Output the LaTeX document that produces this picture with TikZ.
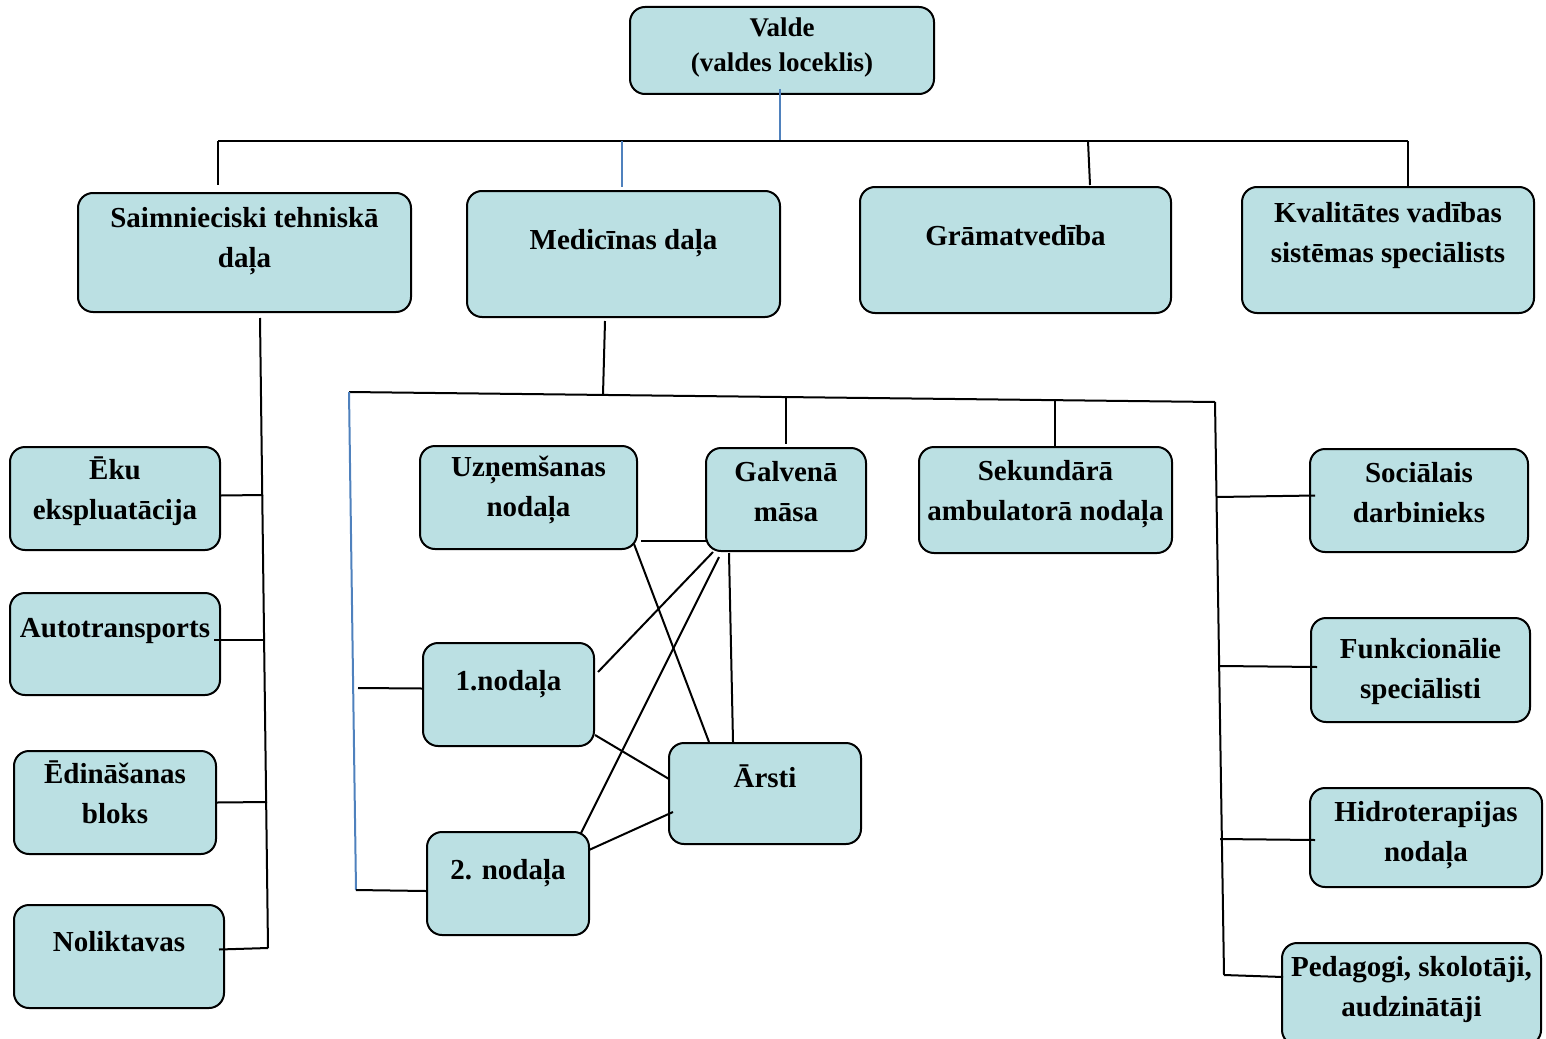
\documentclass[tikz,border=0pt]{standalone}
\usepackage{fontspec}
\setmainfont{Liberation Serif}
\definecolor{boxfill}{RGB}{187,224,227}
\definecolor{linkblue}{RGB}{79,129,189}
\tikzset{
  unit/.style={draw=black, line width=2pt, fill=boxfill, rounded corners=15pt},
  every label/.style={align=center, inner sep=0pt, anchor=north, font=\fontsize{29}{40}\selectfont\bfseries},
  link/.style={line width=2pt, black},
  bluelink/.style={line width=2pt, linkblue},
}
\begin{document}
\begin{tikzpicture}[x=1pt, y=-1pt]
    \useasboundingbox (0,0) rectangle (1546,1038);

    \node[unit, minimum width=304, minimum height=87, label={[yshift=-12pt, font=\fontsize{27}{35}\selectfont\bfseries]north:Valde\\(valdes loceklis)}] at (782,50.5) (valde) {};

    \node[unit, minimum width=333, minimum height=119, label={[yshift=-15pt]north:Saimnieciski tehniskā\\daļa}] at (244.5,252.5) (saim) {};
    \node[unit, minimum width=313, minimum height=126, label={[yshift=-39pt]north:Medicīnas daļa}] at (623.5,254) (med) {};
    \node[unit, minimum width=311, minimum height=126, label={[yshift=-39pt]north:Grāmatvedība}] at (1015.5,250) (gram) {};
    \node[unit, minimum width=292, minimum height=126, label={[yshift=-16pt]north:Kvalitātes vadības\\sistēmas speciālists}] at (1388,250) (kval) {};

    \node[unit, minimum width=210, minimum height=103, label={[yshift=-11pt]north:Ēku\\ekspluatācija}] at (115,498.5) (eku) {};
    \node[unit, minimum width=210, minimum height=102, label={[yshift=-26pt]north:Autotransports}] at (115,644) (auto) {};
    \node[unit, minimum width=202, minimum height=103, label={[yshift=-11pt]north:Ēdināšanas\\bloks}] at (115,802.5) (edin) {};
    \node[unit, minimum width=210, minimum height=103, label={[yshift=-27pt]north:Noliktavas}] at (119,956.5) (nolik) {};

    \node[unit, minimum width=217, minimum height=103, label={[yshift=-11pt]north:Uzņemšanas\\nodaļa}] at (528.5,497.5) (uzn) {};
    \node[unit, minimum width=160, minimum height=103, label={[yshift=-14pt]north:Galvenā\\māsa}] at (786,499.5) (galv) {};
    \node[unit, minimum width=253, minimum height=106, label={[yshift=-14pt]north:Sekundārā\\ambulatorā nodaļa}] at (1045.5,500) (sek) {};
    \node[unit, minimum width=171, minimum height=103, label={[yshift=-28pt]north:1.nodaļa}] at (508.5,694.5) (nod1) {};
    \node[unit, minimum width=162, minimum height=103, label={[yshift=-28pt]north:2. nodaļa}] at (508,883.5) (nod2) {};
    \node[unit, minimum width=192, minimum height=101, label={[yshift=-23pt]north:Ārsti}] at (765,793.5) (arsti) {};

    \node[unit, minimum width=218, minimum height=103, label={[yshift=-14pt]north:Sociālais\\darbinieks}] at (1419,500.5) (soc) {};
    \node[unit, minimum width=219, minimum height=104, label={[yshift=-21pt]north:Funkcionālie\\speciālisti}] at (1420.5,670) (funk) {};
    \node[unit, minimum width=232, minimum height=99, label={[yshift=-14pt]north:Hidroterapijas\\nodaļa}] at (1426,837.5) (hidro) {};
    \node[unit, minimum width=259, minimum height=102, label={[yshift=-14pt]north:Pedagogi, skolotāji,\\audzinātāji}] at (1411.5,994) (ped) {};

    \coordinate (busL) at (218,141);
    \coordinate (busV) at (780,141);
    \coordinate (busM) at (622,141);
    \coordinate (busG) at (1088,141);
    \coordinate (busR) at (1408,141);

    \coordinate (s1) at (263,495);
    \coordinate (s2) at (265,640);
    \coordinate (s3) at (267,802);
    \coordinate (s4) at (268,948);

    \coordinate (mL) at (349,392);
    \coordinate (mM) at (603,394.5);
    \coordinate (mG) at (786,396.5);
    \coordinate (mS) at (1055,399.5);
    \coordinate (mR) at (1215,402);
    \coordinate (l1) at (358,688);
    \coordinate (l2) at (356,890);
    \coordinate (r1) at (1217,497);
    \coordinate (r2) at (1220,666);
    \coordinate (r3) at (1220,839);
    \coordinate (r4) at (1224,975);

    \draw[bluelink] ([xshift=-2pt, yshift=6pt]valde.south) -- (busV);
    \draw[link] (busL) -- (busR);
    \draw[link] (busL) -- ([xshift=-26.5pt, yshift=7pt]saim.north);
    \draw[bluelink] (busM) -- ([xshift=-1.5pt, yshift=3pt]med.north);
    \draw[link] (busG) -- ([xshift=74.5pt, yshift=1pt]gram.north);
    \draw[link] (busR) -- ([xshift=20pt]kval.north);

    \draw[link] ([xshift=15.5pt, yshift=-5pt]saim.south) -- (s4);
    \draw[link] ([yshift=3pt]eku.east) -- (s1);
    \draw[link] ([xshift=-7pt, yshift=4pt]auto.east) -- (s2);
    \draw[link] (edin.east) -- (s3);
    \draw[link] ([xshift=-6pt, yshift=7pt]nolik.east) -- (s4);

    \draw[link] ([xshift=-18.5pt, yshift=-3pt]med.south) -- (mM);
    \draw[link] (mL) -- (mR);
    \draw[link] (mG) -- ([yshift=3pt]galv.north);
    \draw[link] (mS) -- ([xshift=9.5pt]sek.north);
    \draw[bluelink] (mL) -- (l2);
    \draw[link] (l1) -- ([yshift=6pt]nod1.west);
    \draw[link] (l2) -- ([yshift=-7.5pt]nod2.west);
    \draw[link] (mR) -- (r4);
    \draw[link] (r1) -- ([xshift=6pt, yshift=5pt]soc.west);
    \draw[link] (r2) -- ([xshift=7pt, yshift=3pt]funk.west);
    \draw[link] (r3) -- ([xshift=6pt, yshift=-2.5pt]hidro.west);
    \draw[link] (r4) -- ([xshift=2pt, yshift=17pt]ped.west);

    \draw[link] ([xshift=3pt, yshift=-43pt]uzn.east) -- ([xshift=3pt, yshift=-41pt]galv.west);
    \draw[link] ([xshift=-4pt, yshift=6pt]uzn.south east) -- ([xshift=41pt]arsti.north west);
    \draw[link] ([xshift=3pt, yshift=22.5pt]nod1.east) -- ([xshift=8pt]galv.south west);
    \draw[link] ([xshift=-9pt, yshift=-2pt]nod2.north east) -- ([xshift=14pt, yshift=-5pt]galv.south west);
    \draw[link] ([xshift=-57pt, yshift=-1pt]galv.south) -- ([xshift=-32pt]arsti.north);
    \draw[link] ([yshift=12pt]nod1.south east) -- ([xshift=1pt, yshift=14.5pt]arsti.west);
    \draw[link] ([xshift=-1pt, yshift=33.5pt]nod2.east) -- ([xshift=5pt, yshift=-18.5pt]arsti.west);
\end{tikzpicture}
\end{document}
